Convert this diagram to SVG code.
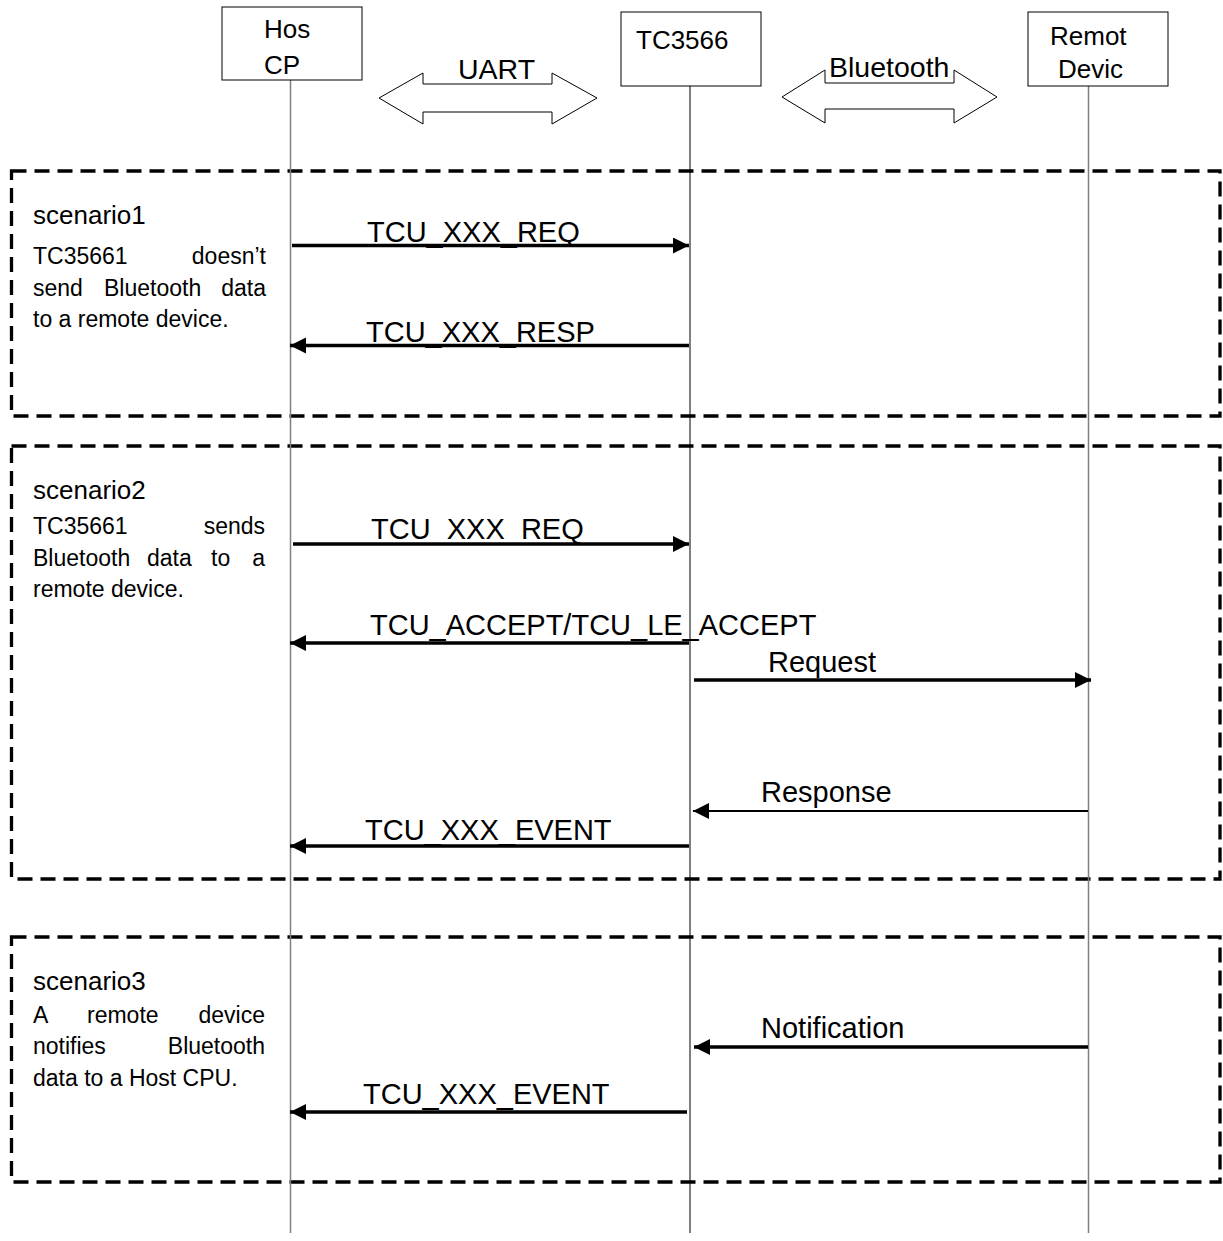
<svg xmlns="http://www.w3.org/2000/svg" width="1223" height="1241" viewBox="0 0 1223 1241">
<style>
text { font-family: "Liberation Sans", Arial, sans-serif; fill: #000; }
.box { fill: #fff; stroke: #000; stroke-width: 1; }
.lbl { font-size: 26px; }
.big { font-size: 28.5px; }
.msg { font-size: 29px; }
.scn { font-size: 26px; }
.desc { font-size: 23px; }
.frame { fill: none; stroke: #000; stroke-width: 3.3; stroke-dasharray: 15 8; }
.life-g { stroke: #808080; stroke-width: 1.5; fill: none; }
.life-k { stroke: #000; stroke-width: 1; fill: none; }
.dbl { fill: #fff; stroke: #000; stroke-width: 1; }
.arr { stroke: #000; stroke-width: 3.5; fill: none; marker-end: url(#ah); }
.arr-thin { stroke: #000; stroke-width: 2; fill: none; marker-end: url(#ah); }
</style>
<defs>
<marker id="ah" markerUnits="userSpaceOnUse" markerWidth="17" markerHeight="17" refX="16" refY="8" orient="auto" viewBox="0 0 17 17">
<path d="M0,0 L16,8 L0,16 z" fill="#000"/>
</marker>
</defs>
<rect width="1223" height="1241" fill="#fff"/>

<g id="frames">
<rect class="frame" x="11.5" y="171" width="1208.5" height="245"/>
<rect class="frame" x="11.5" y="446" width="1208.5" height="433"/>
<rect class="frame" x="11.5" y="937" width="1208.5" height="245"/>
</g>

<g id="lifelines">
<line class="life-g" x1="290.5" y1="80" x2="290.5" y2="1233"/>
<line class="life-k" x1="690" y1="86" x2="690" y2="1233"/>
<line class="life-g" x1="1088.5" y1="86" x2="1088.5" y2="1233"/>
</g>

<g id="host">
<rect class="box" x="222" y="7" width="140" height="73"/>
<text class="lbl" x="264" y="38">Hos</text>
<text class="lbl" x="264" y="74">CP</text>
</g>
<g id="tc3566">
<rect class="box" x="621" y="12" width="140" height="74"/>
<text class="lbl" x="636" y="49">TC3566</text>
</g>
<g id="remote">
<rect class="box" x="1028" y="12" width="140" height="74"/>
<text class="lbl" x="1050" y="45">Remot</text>
<text class="lbl" x="1058" y="78">Devic</text>
</g>

<g id="uart">
<polygon class="dbl" points="379,98 423,73 423,84 552,84 552,73 597,98 552,124 552,112 423,112 423,124"/>
<text class="big" x="458" y="79">UART</text>
</g>
<g id="bluetooth">
<polygon class="dbl" points="782,97 825,70 825,83 954,83 954,70 997,97 954,123 954,109 825,109 825,123"/>
<text class="big" x="829" y="77">Bluetooth</text>
</g>

<g id="scenario1-text">
<text class="scn" x="33" y="224">scenario1</text>
<text class="desc" x="33" y="264">TC35661</text>
<text class="desc" x="266" y="264" text-anchor="end">doesn’t</text>
<text class="desc" x="33" y="296">send</text>
<text class="desc" x="104" y="296">Bluetooth</text>
<text class="desc" x="266" y="296" text-anchor="end">data</text>
<text class="desc" x="33" y="327">to a remote device.</text>
</g>
<g id="scenario2-text">
<text class="scn" x="33" y="499">scenario2</text>
<text class="desc" x="33" y="534">TC35661</text>
<text class="desc" x="265" y="534" text-anchor="end">sends</text>
<text class="desc" x="33" y="566">Bluetooth</text>
<text class="desc" x="147" y="566">data</text>
<text class="desc" x="211" y="566">to</text>
<text class="desc" x="265" y="566" text-anchor="end">a</text>
<text class="desc" x="33" y="597">remote device.</text>
</g>
<g id="scenario3-text">
<text class="scn" x="33" y="990">scenario3</text>
<text class="desc" x="33" y="1023">A</text>
<text class="desc" x="87" y="1023">remote</text>
<text class="desc" x="265" y="1023" text-anchor="end">device</text>
<text class="desc" x="33" y="1054">notifies</text>
<text class="desc" x="265" y="1054" text-anchor="end">Bluetooth</text>
<text class="desc" x="33" y="1086">data to a Host CPU.</text>
</g>

<g id="messages">
<text class="msg" x="367" y="242">TCU_XXX_REQ</text>
<line class="arr" x1="292" y1="245.5" x2="689" y2="245.5"/>
<text class="msg" x="366" y="342">TCU_XXX_RESP</text>
<line class="arr" x1="689" y1="345.5" x2="290" y2="345.5"/>
<text class="msg" x="371" y="539">TCU_XXX_REQ</text>
<line class="arr" x1="293" y1="544" x2="689" y2="544"/>
<text class="msg" x="370" y="635">TCU_ACCEPT/TCU_LE_ACCEPT</text>
<line class="arr" x1="689" y1="643" x2="290" y2="643"/>
<text class="msg" x="768" y="672">Request</text>
<line class="arr" x1="694" y1="680" x2="1091" y2="680"/>
<text class="msg" x="761" y="802">Response</text>
<line class="arr-thin" x1="1088" y1="811" x2="693" y2="811"/>
<text class="msg" x="365" y="840">TCU_XXX_EVENT</text>
<line class="arr" x1="689" y1="846" x2="290" y2="846"/>
<text class="msg" x="761" y="1038">Notification</text>
<line class="arr" x1="1088" y1="1047" x2="694" y2="1047"/>
<text class="msg" x="363" y="1104">TCU_XXX_EVENT</text>
<line class="arr" x1="687" y1="1112" x2="290" y2="1112"/>
</g>
</svg>
